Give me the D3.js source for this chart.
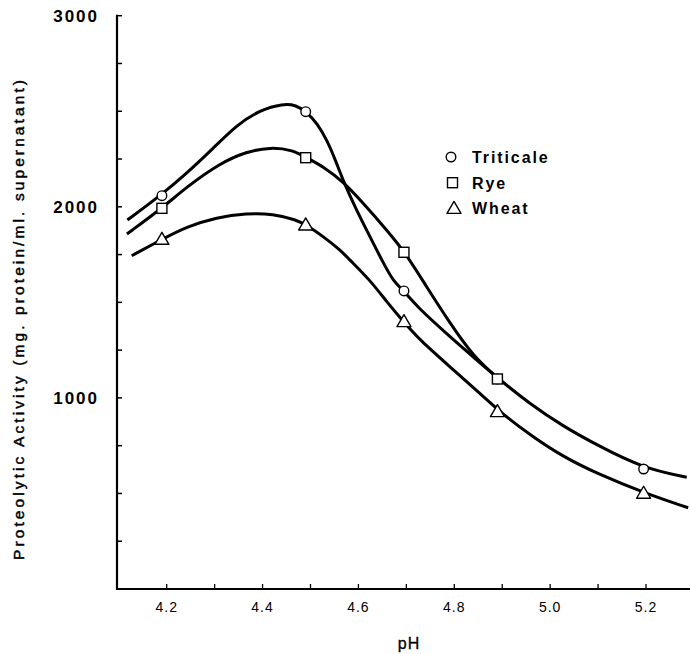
<!DOCTYPE html>
<html>
<head>
<meta charset="utf-8">
<script src="https://cdn.jsdelivr.net/npm/d3@7"></script>
<style>
  body { margin: 0; background: #fff; }
  svg { display: block; font-family: "Liberation Sans", Arial, sans-serif; }
</style>
</head>
<body>
<script>
// measured sample points (pH)
const pHPoints = [4.19, 4.49, 4.695, 4.89, 5.195];

// activity at each measured pH
const triticaleValues = [2058, 2498, 1560, 1099, 628];
const ryeValues = [1992, 2257, 1762, 1099];
const wheatValues = [1830, 1905, 1399, 928, 501];

// hand drawn smooth curves: [pH, activity]
const triticaleCurve = [
  [4.118, 1931], [4.186, 2057], [4.242, 2176], [4.297, 2306], [4.346, 2428],
  [4.395, 2507], [4.443, 2540], [4.470, 2532], [4.491, 2498], [4.515, 2435],
  [4.535, 2345], [4.552, 2245], [4.570, 2125], [4.596, 1983], [4.617, 1879],
  [4.652, 1705], [4.673, 1610], [4.694, 1562], [4.722, 1477], [4.791, 1320],
  [4.847, 1198], [4.892, 1101], [4.958, 968], [5.027, 852], [5.097, 754],
  [5.194, 632], [5.285, 585]
];
const ryeCurve = [
  [4.117, 1858], [4.190, 1992], [4.242, 2105], [4.311, 2228], [4.367, 2289],
  [4.416, 2312], [4.464, 2297], [4.492, 2256], [4.527, 2210], [4.568, 2132],
  [4.610, 2019], [4.659, 1879], [4.697, 1763], [4.742, 1582], [4.791, 1391],
  [4.840, 1216], [4.892, 1101]
];
const wheatCurve = [
  [4.127, 1744], [4.192, 1832], [4.242, 1896], [4.304, 1945], [4.367, 1966],
  [4.422, 1963], [4.471, 1931], [4.491, 1905], [4.527, 1844], [4.562, 1774],
  [4.582, 1722], [4.624, 1617], [4.660, 1500], [4.694, 1399], [4.728, 1303],
  [4.791, 1163], [4.861, 1006], [4.895, 928], [4.958, 806], [5.027, 692],
  [5.097, 605], [5.198, 501], [5.288, 425]
];

const xTicks = [4.2, 4.3, 4.4, 4.5, 4.6, 4.7, 4.8, 4.9, 5.0, 5.1, 5.2];
const xTickLabels = [4.2, 4.4, 4.6, 4.8, 5.0, 5.2];
const yTicks = [0, 250, 500, 750, 1000, 1250, 1500, 1750, 2000, 2250, 2500, 2750, 3000];
const yTickLabels = [1000, 2000, 3000];

const seriesNames = ["Triticale", "Rye", "Wheat"];
const seriesShapes = ["circle", "square", "triangle"];

const width = 690, height = 654;

const svg = d3.select("body").append("svg")
  .attr("width", width)
  .attr("height", height);

const x = d3.scaleLinear().domain([4.2, 5.2]).range([166.7, 646]);
const y = d3.scaleLinear().domain([0, 3000]).range([589, 15.7]);

const axisX = 117;

// y axis
svg.append("line")
  .attr("x1", axisX).attr("x2", axisX)
  .attr("y1", y(3000) - 1).attr("y2", y(0) + 1)
  .attr("stroke", "#000").attr("stroke-width", 2.2);

svg.selectAll(".ytick").data(yTicks).enter().append("line")
  .attr("class", "ytick")
  .attr("x1", axisX).attr("x2", axisX + 5)
  .attr("y1", d => y(d)).attr("y2", d => y(d))
  .attr("stroke", "#000").attr("stroke-width", 1.5);

svg.selectAll(".ylab").data(yTickLabels).enter().append("text")
  .attr("class", "ylab")
  .attr("x", 99)
  .attr("y", d => y(d) + 6)
  .attr("text-anchor", "end")
  .attr("font-size", 17)
  .attr("font-weight", "bold")
  .attr("letter-spacing", 2)
  .text(d => d);

// x axis
svg.append("line")
  .attr("x1", axisX - 1).attr("x2", width)
  .attr("y1", y(0)).attr("y2", y(0))
  .attr("stroke", "#000").attr("stroke-width", 2.2);

svg.selectAll(".xtick").data(xTicks).enter().append("line")
  .attr("class", "xtick")
  .attr("x1", d => x(d)).attr("x2", d => x(d))
  .attr("y1", y(0)).attr("y2", y(0) - 5)
  .attr("stroke", "#000").attr("stroke-width", 1.3);

svg.selectAll(".xlab").data(xTickLabels).enter().append("text")
  .attr("class", "xlab")
  .attr("x", d => x(d))
  .attr("y", 612)
  .attr("text-anchor", "middle")
  .attr("font-size", 14)
  .attr("letter-spacing", 1)
  .text(d => d3.format(".1f")(d));

// axis titles
svg.append("text")
  .attr("x", 409)
  .attr("y", 649)
  .attr("text-anchor", "middle")
  .attr("font-size", 16)
  .attr("letter-spacing", 1)
  .attr("stroke", "#000")
  .attr("stroke-width", 0.3)
  .text("pH");

svg.append("text")
  .attr("transform", "translate(24,320) rotate(-90)")
  .attr("text-anchor", "middle")
  .attr("font-size", 15.5)
  .attr("stroke", "#000")
  .attr("stroke-width", 0.45)
  .attr("textLength", 480)
  .text("Proteolytic Activity (mg. protein/ml. supernatant)");

// curves
const line = d3.line()
  .x(d => x(d[0]))
  .y(d => y(d[1]))
  .curve(d3.curveBasis);

[triticaleCurve, ryeCurve, wheatCurve].forEach(c => {
  svg.append("path")
    .datum(c)
    .attr("d", line)
    .attr("fill", "none")
    .attr("stroke", "#000")
    .attr("stroke-width", 3)
    .attr("stroke-linejoin", "round");
});

// markers
function drawMarker(g, shape, cx, cy) {
  if (shape === "circle") {
    g.append("circle")
      .attr("cx", cx).attr("cy", cy).attr("r", 4.8)
      .attr("fill", "#fff").attr("stroke", "#000").attr("stroke-width", 1.4);
  } else if (shape === "square") {
    g.append("rect")
      .attr("x", cx - 5).attr("y", cy - 5)
      .attr("width", 10).attr("height", 10)
      .attr("fill", "#fff").attr("stroke", "#000").attr("stroke-width", 1.4);
  } else {
    g.append("path")
      .attr("d", `M${cx},${cy - 7} L${cx + 7},${cy + 5} L${cx - 7},${cy + 5} Z`)
      .attr("fill", "#fff").attr("stroke", "#000").attr("stroke-width", 1.4)
      .attr("stroke-linejoin", "round");
  }
}

const markers = svg.append("g");
[wheatValues, triticaleValues, ryeValues].forEach((vals, k) => {
  const shape = ["triangle", "circle", "square"][k];
  vals.forEach((v, i) => drawMarker(markers, shape, x(pHPoints[i]), y(v)));
});

// legend
const legend = svg.append("g");
seriesNames.forEach((name, i) => {
  const ly = 157 + i * 25.7;
  drawMarker(legend, seriesShapes[i], 451 + i * 1.5, ly);
  legend.append("text")
    .attr("x", 472)
    .attr("y", ly + 6)
    .attr("font-size", 16)
    .attr("font-weight", "bold")
    .attr("letter-spacing", 1.9)
    .text(name);
});
</script>
</body>
</html>
